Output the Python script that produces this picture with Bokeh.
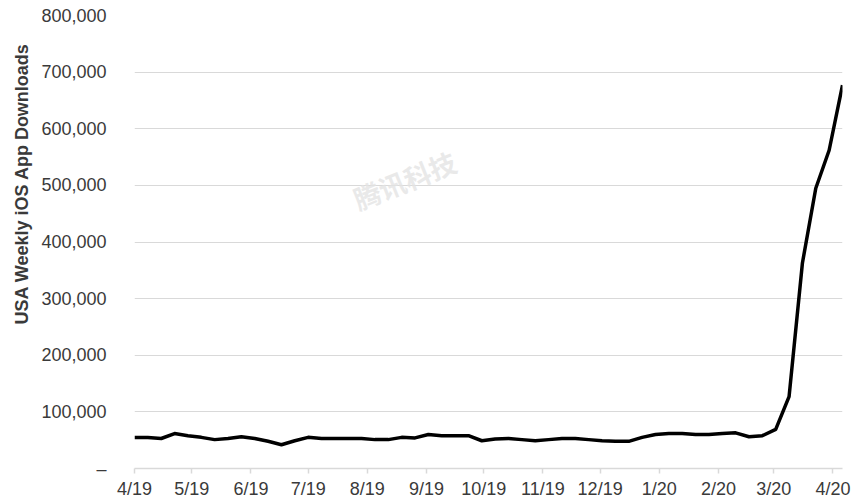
import datetime as dt
from bokeh.plotting import figure
from bokeh.models import FixedTicker, NumeralTickFormatter, Label, Range1d, Title
from bokeh.embed import file_html
from bokeh.resources import INLINE

# ---- data ----
start_date = dt.datetime(2019, 4, 1)
downloads = [54600, 54600, 53000, 61700, 58000, 55000, 51000, 53000, 56000, 53000,
             48000, 42000, 49000, 55000, 53000, 53000, 53000, 53000, 51000, 51000,
             55000, 54000, 60000, 58000, 58000, 58000, 49000, 52000, 53000, 51000,
             49000, 51000, 53000, 53000, 51000, 49000, 48000, 48000, 55000, 60000,
             62000, 62000, 60000, 60000, 62000, 63000, 56000, 58000, 69000, 127000,
             363000, 495000, 562000, 677000]
weeks = [start_date + dt.timedelta(weeks=i) for i in range(len(downloads))]

month_ticks = [dt.datetime(2019, m, 1) for m in range(4, 13)] + [dt.datetime(2020, m, 1) for m in range(1, 5)]
month_labels = ["4/19", "5/19", "6/19", "7/19", "8/19", "9/19", "10/19", "11/19",
                "12/19", "1/20", "2/20", "3/20", "4/20"]
y_ticks = [0, 100000, 200000, 300000, 400000, 500000, 600000, 700000, 800000]
y_title = "USA Weekly iOS App Downloads"


def to_ms(d):
    return (d - dt.datetime(1970, 1, 1)).total_seconds() * 1000.0


FONT = "Liberation Sans"
TXT = "#3a3a3a"
GRID = "#d9d9d9"

p = figure(width=852, height=501, x_axis_type="datetime",
           x_range=Range1d(weeks[0], weeks[-1]), y_range=Range1d(0, 800000),
           output_backend="svg", toolbar_location=None,
           min_border_left=134, min_border_right=10, min_border_top=15, min_border_bottom=32)
p.outline_line_color = None
p.background_fill_color = "white"
p.border_fill_color = "white"

# grid
p.xgrid.visible = False
p.ygrid.grid_line_color = GRID
p.ygrid.grid_line_width = 1

# y axis
p.yaxis.ticker = FixedTicker(ticks=y_ticks)
p.yaxis.formatter = NumeralTickFormatter(format="0,0")
p.yaxis.major_label_overrides = {0: "\u2013"}
p.yaxis.axis_line_color = None
p.yaxis.major_tick_line_color = None
p.yaxis.minor_tick_line_color = None
p.yaxis.major_label_standoff = 22
p.yaxis.major_label_text_font = FONT
p.yaxis.major_label_text_font_size = "18px"
p.yaxis.major_label_text_color = TXT

# y-axis title, placed off-centre (higher) as in the reference
p.add_layout(Title(text=y_title, align="left", offset=144, standoff=14,
                   text_font=FONT, text_font_size="18px", text_font_style="bold",
                   text_color=TXT), "left")

# x axis
tick_ms = [to_ms(d) for d in month_ticks]
p.xaxis.ticker = FixedTicker(ticks=tick_ms)
p.xaxis.major_label_overrides = {t: lab for t, lab in zip(tick_ms, month_labels)}
p.xaxis.axis_line_color = GRID
p.xaxis.axis_line_width = 1.5
p.xaxis.major_tick_line_color = GRID
p.xaxis.major_tick_line_width = 1.5
p.xaxis.major_tick_in = 0
p.xaxis.major_tick_out = 5
p.xaxis.minor_tick_line_color = None
p.xaxis.major_label_standoff = 5
p.xaxis.major_label_text_font = FONT
p.xaxis.major_label_text_font_size = "18px"
p.xaxis.major_label_text_color = TXT

# watermark of the source picture
p.add_layout(Label(x=to_ms(dt.datetime(2019, 7, 29)), y=442000, text="腾讯科技", angle=0.38,
                   text_font="Noto Sans CJK SC", text_font_style="bold",
                   text_font_size="27px", text_color="#e4e4e4", text_alpha=0.8,
                   level="underlay"))

# line
p.line(weeks, downloads, line_color="black", line_width=3.5, line_join="round")

open("out.html", "w").write(file_html(p, INLINE))
